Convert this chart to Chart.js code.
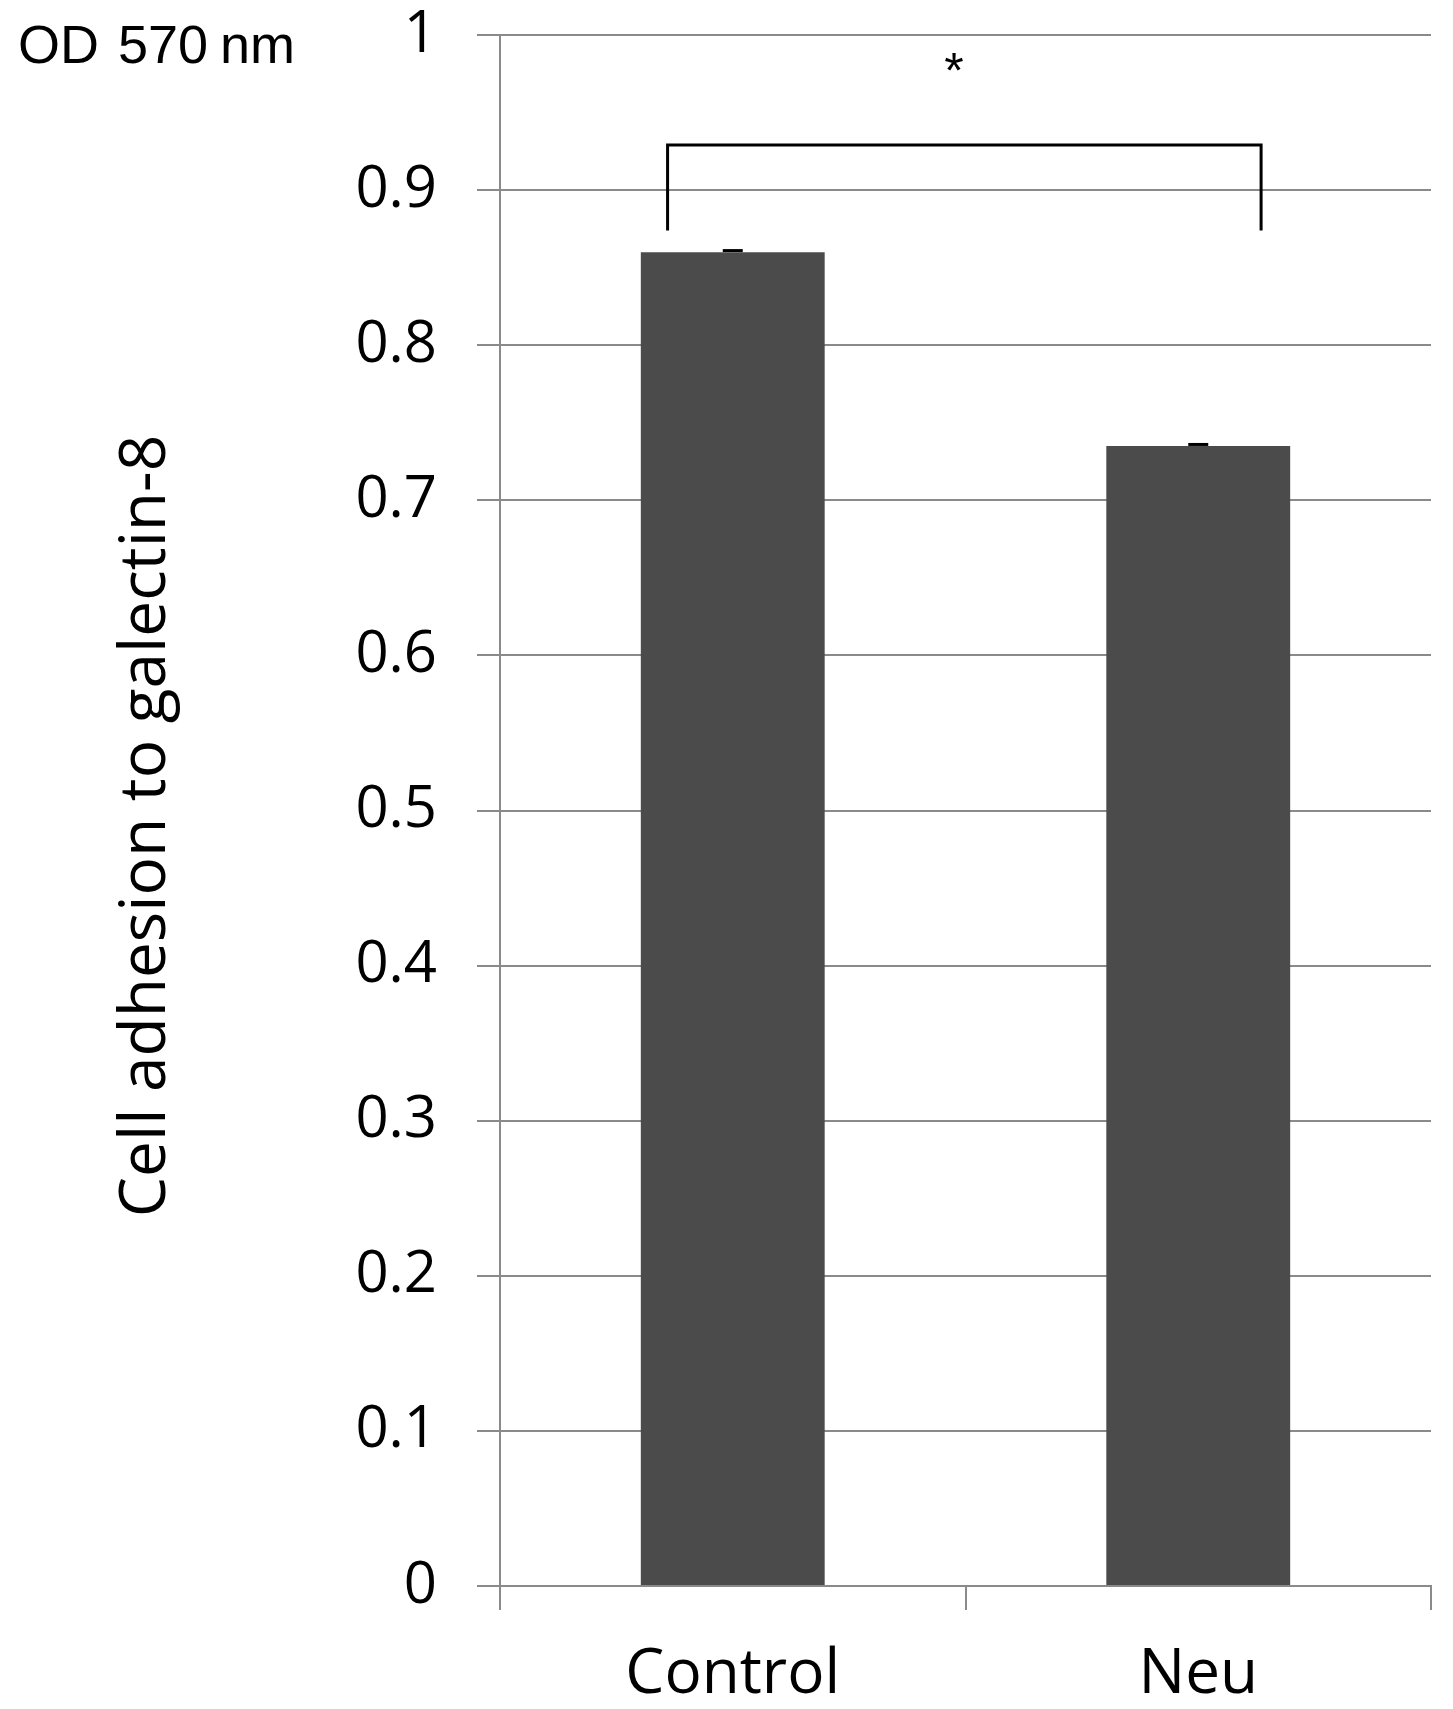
<!DOCTYPE html>
<html>
<head>
<meta charset="utf-8">
<script src="https://cdn.jsdelivr.net/npm/chart.js@4.4.1/dist/chart.umd.min.js"></script>
<style>
  html, body { margin: 0; padding: 0; background: #fff; }
  #wrap { width: 1453px; height: 1709px; }
</style>
</head>
<body>
<div id="wrap"><canvas id="myBarChart"></canvas></div>
<script>
// values
const categories = ['Control', 'Neu'];
const adhesion = [0.86, 0.735];
const errors = [0.001, 0.001];
const yTickLabels = ['0', '0.1', '0.2', '0.3', '0.4', '0.5', '0.6', '0.7', '0.8', '0.9', '1'];
const yTitle = 'Cell adhesion to galectin-8';
// significance bracket, in category-index / value units
const bracketX = [-0.14, -0.14, 1.135, 1.135];
const bracketY = [0.874, 0.929, 0.929, 0.874];
const starAt = [0.475, 0.975];

const gridGray = '#8a8a8a';

const extras = {
  id: 'extras',
  afterDatasetsDraw(chart) {
    const ctx = chart.ctx;
    const x = chart.scales.x;
    const y = chart.scales.y;
    ctx.save();
    // error caps
    const meta = chart.getDatasetMeta(0);
    ctx.strokeStyle = '#000';
    ctx.lineWidth = 3;
    meta.data.forEach((bar, i) => {
      const top = y.getPixelForValue(adhesion[i] + errors[i]);
      ctx.beginPath();
      ctx.moveTo(bar.x - 10, top);
      ctx.lineTo(bar.x + 10, top);
      ctx.stroke();
    });
    // significance bracket
    ctx.beginPath();
    bracketX.forEach((v, i) => {
      const px = x.getPixelForValue(v);
      const py = y.getPixelForValue(bracketY[i]);
      if (i === 0) ctx.moveTo(px, py); else ctx.lineTo(px, py);
    });
    ctx.lineJoin = 'miter';
    ctx.stroke();
    // asterisk
    ctx.fillStyle = '#000';
    ctx.font = '50px "Liberation Sans"';
    ctx.textAlign = 'center';
    ctx.textBaseline = 'middle';
    ctx.fillText('*', x.getPixelForValue(starAt[0]), y.getPixelForValue(starAt[1]));
    // unit label
    ctx.font = '54px "Liberation Sans"';
    ctx.textAlign = 'left';
    ctx.textBaseline = 'alphabetic';
    ctx.fillText('OD', 18, 63);
    ctx.fillText('570', 118, 63);
    ctx.fillText('nm', 220, 63);
    // y axis title
    ctx.translate(147, 826);
    ctx.rotate(-Math.PI / 2);
    ctx.font = '64px "Open Sans"';
    ctx.textAlign = 'center';
    ctx.textBaseline = 'middle';
    ctx.fillText(yTitle, 0, 0);
    ctx.restore();
  }
};

const ctxB = document.getElementById('myBarChart').getContext('2d');
new Chart(ctxB, {
  type: 'bar',
  data: {
    labels: categories,
    datasets: [{
      data: adhesion,
      backgroundColor: '#4b4b4b',
      borderWidth: 0,
      grouped: false,
      categoryPercentage: 1,
      barPercentage: 0.395
    }]
  },
  options: {
    responsive: true,
    maintainAspectRatio: false,
    animation: false,
    layout: { padding: { top: 0, right: 22, left: 0, bottom: 0 } },
    plugins: { legend: { display: false }, tooltip: { enabled: false } },
    scales: {
      x: {
        grid: { offset: true, drawOnChartArea: false, color: gridGray, lineWidth: 2, tickLength: 24 },
        border: { color: gridGray, width: 2 },
        ticks: { color: '#000', font: { family: 'Open Sans', size: 62 }, padding: 28 },
        afterFit(scale) { scale.height = 123; }
      },
      y: {
        min: 0,
        max: 1,
        ticks: {
          stepSize: 0.1,
          color: '#000',
          font: { family: 'Open Sans', size: 58 },
          padding: 40,
          callback: (v, i) => yTickLabels[i]
        },
        grid: { color: gridGray, lineWidth: 2, tickLength: 23 },
        border: { color: gridGray, width: 2 },
        afterFit(scale) {
          scale.width = 500;
          scale.paddingTop = 35;
          scale.paddingBottom = 0;
        }
      }
    }
  },
  plugins: [extras]
});
</script>
</body>
</html>
